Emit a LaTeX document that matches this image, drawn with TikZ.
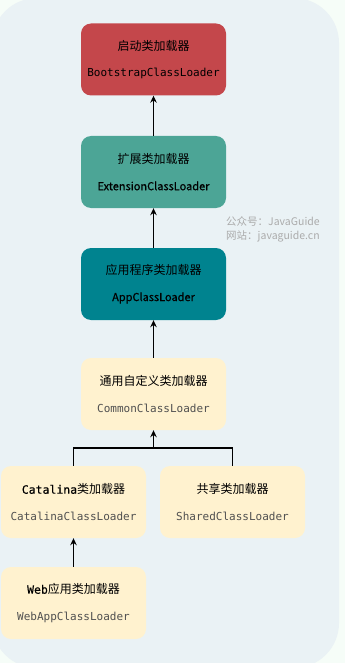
\documentclass[tikz,border=0pt]{standalone}
\usepackage{fontspec}
\newfontfamily\cn{Noto Sans CJK SC}
\newfontfamily\cnm[FakeBold=0.7]{Noto Sans CJK SC}
\newfontfamily\mono{DejaVu Sans Mono}
\newfontfamily\monom[FakeBold=0.3]{DejaVu Sans Mono}
\usetikzlibrary{arrows.meta}
\definecolor{outerbg}{HTML}{F6FDF8}
\definecolor{innerbg}{HTML}{EAF2F5}
\definecolor{bootred}{HTML}{C4474B}
\definecolor{extteal}{HTML}{4CA596}
\definecolor{appteal}{HTML}{00838F}
\definecolor{cream}{HTML}{FFF2CF}
\definecolor{monogray}{HTML}{505050}
\definecolor{wmgray}{HTML}{ABABAB}
\tikzset{
  loader/.style={rounded corners=10pt, minimum width=145pt, minimum height=72pt, inner sep=0pt, align=center, text=black},
  conn/.style={line width=1.6pt, black},
  arr/.style={conn, -{Stealth[length=7pt,width=6.5pt]}},
  watermark/.style={anchor=west, text=wmgray, font=\cn\fontsize{10.5}{12}\selectfont, inner sep=0pt}
}
\newcommand{\cnl}[1]{{\cn\fontsize{12}{13}\selectfont #1}}
\newcommand{\monol}[1]{{\mono\fontsize{11}{13}\selectfont #1}}
\newcommand{\sansl}[1]{{\cnm\fontsize{11}{13}\selectfont #1}}
\newcommand{\monob}[1]{{\monom\fontsize{11.5}{13}\selectfont #1}}
\begin{document}
\begin{tikzpicture}[x=1pt,y=-1pt]
\useasboundingbox (0,0) rectangle (345,663);
\fill[outerbg] (0,0) rectangle (345,663);
\fill[innerbg, rounded corners=45pt] (-8,-2) rectangle (339,668);

\node[loader, fill=bootred] (boot) at (153.5,59.5) {\cnl{启动类加载器}\\[14.5pt]\monol{BootstrapClassLoader}};
\node[loader, fill=extteal] (ext) at (153.5,172) {\cnl{扩展类加载器}\\[14.5pt]\sansl{ExtensionClassLoader}};
\node[loader, fill=appteal] (app) at (153.5,284) {\cnl{应用程序类加载器}\\[14.5pt]\sansl{AppClassLoader}};
\node[loader, fill=cream] (common) at (153.5,394) {\cnl{通用自定义类加载器}\\[14.5pt]{\color{monogray}\monol{CommonClassLoader}}};
\node[loader, fill=cream] (cat) at (73.5,502) {\monob{Catalina}\cnl{类加载器}\\[14.5pt]{\color{monogray}\monol{CatalinaClassLoader}}};
\node[loader, fill=cream] (shared) at (232.5,502) {\cnl{共享类加载器}\\[14.5pt]{\color{monogray}\monol{SharedClassLoader}}};
\node[loader, fill=cream] (web) at (73.5,603) {\monob{Web}\cnl{应用类加载器}\\[14.5pt]{\color{monogray}\monol{WebAppClassLoader}}};

\node[watermark] (wm1) at (226,221) {公众号：JavaGuide};
\node[watermark] (wm2) at (226,236) {网站：javaguide.cn};

\draw[arr] (ext.north) -- (boot.south);
\draw[arr] (app.north) -- (ext.south);
\draw[arr] (common.north) -- (app.south);
\coordinate (j) at (153.5,448);
\draw[conn] (cat.north) |- (j) -| (shared.north);
\draw[arr] (j) -- (common.south);
\draw[arr] (web.north) -- (cat.south);
\end{tikzpicture}
\end{document}
